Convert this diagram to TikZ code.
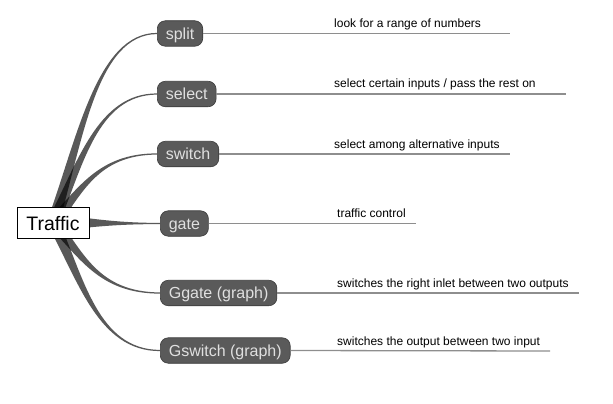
\documentclass[tikz,border=0pt]{standalone}
\usepackage{fontspec}
\setmainfont{Liberation Sans}
\usetikzlibrary{calc,backgrounds}
\definecolor{nodefill}{HTML}{5A5A5A}
\definecolor{nodeedge}{HTML}{3A3A3A}
\definecolor{nodetext}{HTML}{E0E0E0}
\definecolor{linegray}{HTML}{8E8E8E}
\tikzset{
  topic/.style={draw=black, line width=0.8pt, fill=white, minimum width=72pt, minimum height=31pt,
    inner sep=0pt, text height=15pt, text depth=0pt, font=\fontsize{19.5}{22}\selectfont},
  sub/.style={anchor=west, draw=nodeedge, line width=0.6pt, fill=nodefill, rounded corners=8pt,
    text=nodetext, inner xsep=8.5pt, inner ysep=0pt, minimum height=25.5pt,
    text height=11.6pt, text depth=0pt, font=\fontsize{16}{18}\selectfont},
  desc/.style={anchor=base west, inner sep=0pt, font=\fontsize{12}{14}\selectfont},
  descline/.style={draw=linegray, line width=1.3pt},
  wedgefill/.style={fill=black, fill opacity=0.65}
}
% #1 target node, #2 first control, #3 second control, #4 start offset, #5 first control offset, #6 second control half width
\newcommand{\branchwedge}[6]{%
  \fill[wedgefill] ($(traffic.center)+#4$) .. controls ($#2+#5$) and ($#3+(0,#6)$) .. ($(#1.west)+(0,0.6)$)
    -- ($(#1.west)+(0,-0.6)$) .. controls ($#3-(0,#6)$) and ($#2-#5$) .. ($(traffic.center)-#4$) -- cycle;}
\begin{document}
\begin{tikzpicture}[x=1pt,y=-1pt]
\useasboundingbox (0,0) rectangle (613,404);
\node[topic] (traffic) at (53,222.5) {Traffic};
\node[sub] (split)   at (157,33.5)  {split};
\node[sub] (select)  at (157,94)    {select};
\node[sub] (switch)  at (157,154)   {switch};
\node[sub] (gate)    at (160,223.5) {gate};
\node[sub] (ggate)   at (160,293)   {Ggate (graph)};
\node[sub] (gswitch) at (160,350.5) {Gswitch (graph)};
\begin{pgfonlayer}{background}
\branchwedge{split}{(80,139.5)}{(97,33.5)}{(5.7,1.85)}{(2.85,0.93)}{0.8}
\branchwedge{select}{(80,166)}{(97,94)}{(5.4,2.6)}{(2.7,1.3)}{0.8}
\branchwedge{switch}{(80,192.5)}{(97,154)}{(4.5,4.0)}{(2.2,2.0)}{0.8}
\branchwedge{gate}{(95,222.8)}{(120,223.5)}{(0,9)}{(0,3.5)}{0.6}
\branchwedge{ggate}{(81,253.5)}{(98,293)}{(-4.45,4.0)}{(-2.2,2.0)}{0.8}
\branchwedge{gswitch}{(81,278.5)}{(98,350.5)}{(-5.4,2.7)}{(-2.7,1.3)}{0.8}
\end{pgfonlayer}
\node[topic] at (traffic.center) {Traffic};
\coordinate (e1) at (510,33.5);
\coordinate (e2) at (566,94);
\coordinate (e3) at (510,154);
\coordinate (e4) at (416,223.5);
\coordinate (e5) at (579,293);
\coordinate (e6) at (550,351);
\draw[descline] (split.east) -- (e1);
\draw[descline] (select.east) -- (e2);
\draw[descline] (switch.east) -- (e3);
\draw[descline] (gate.east) -- (e4);
\draw[descline] (ggate.east) -- (e5);
\draw[descline] (gswitch.east) -- (e6);
\node[desc] (d1) at (334,27.5) {look for a range of numbers};
\node[desc] (d2) at (334,88) {select certain inputs / pass the rest on};
\node[desc] (d3) at (334,148) {select among alternative inputs};
\node[desc] (d4) at (337,217) {traffic control};
\node[desc] (d5) at (337,287) {switches the right inlet between two outputs};
\node[desc] (d6) at (337,345) {switches the output between two input};
\end{tikzpicture}
\end{document}
